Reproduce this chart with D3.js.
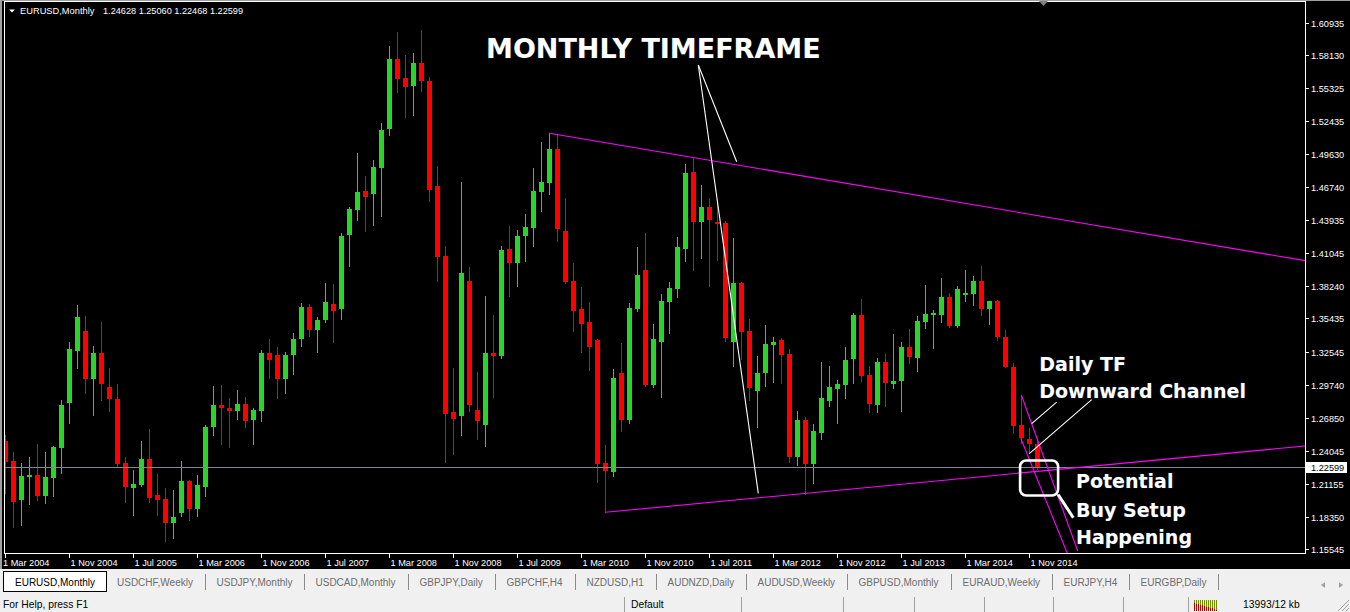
<!DOCTYPE html>
<html><head><meta charset="utf-8">
<script src="https://cdn.jsdelivr.net/npm/d3@7"></script>
<style>
html,body{margin:0;padding:0;background:#000;overflow:hidden}
svg{display:block}
</style></head><body>
<svg id="c" width="1350" height="612"></svg>
<script>
// ---------------- DATA ----------------
const symbol = "EURUSD,Monthly";
const headerValues = "1.24628 1.25060 1.22468 1.22599";
const firstBar = "Mar 2004";   // bar index 0, monthly bars
const opens = [1.2488,1.2315,1.1979,1.2180,1.2195,1.2014,1.2169,1.2428,1.2815,1.3264,
1.3436,1.3023,1.3246,1.2953,1.2850,1.2298,1.2083,1.2108,1.2332,1.2022,1.1988,1.1781,
1.1867,1.2143,1.1902,1.2091,1.2608,1.2798,1.2772,1.2746,1.2806,1.2669,1.2746,1.3246,
1.3229,1.3022,1.3229,1.3367,1.3642,1.3444,1.3531,1.3668,1.3625,1.4263,1.4478,1.4642,
1.4616,1.4840,1.5176,1.5779,1.5616,1.5547,1.5745,1.5590,1.4685,1.4081,1.2737,1.2706,
1.3866,1.2754,1.2626,1.3246,1.3220,1.4143,1.4022,1.4257,1.4325,1.4636,1.4713,1.5004,
1.4297,1.3866,1.3625,1.3515,1.3360,1.2298,1.2223,1.3071,1.2668,1.3623,1.3964,1.2970,
1.3338,1.3688,1.3797,1.4144,1.4806,1.4373,1.4506,1.4375,1.4369,1.3343,1.3851,1.3437,
1.2920,1.3075,1.3317,1.3360,1.3240,1.2352,1.2671,1.2292,1.2559,1.2835,1.2939,1.2973,
1.3197,1.3576,1.3059,1.2800,1.3171,1.2981,1.3007,1.3300,1.3205,1.3516,1.3576,1.3576,
1.3731,1.3481,1.3748,1.3757,1.3869,1.3628,1.3697,1.3386,1.3128,1.2628,1.2504,1.24628];
const highs = [1.2539,1.2393,1.2298,1.2350,1.2462,1.2393,1.2447,1.2841,1.3341,1.3659,
1.3565,1.3306,1.3513,1.3117,1.2979,1.2350,1.2238,1.2488,1.2591,1.2203,1.2083,1.2066,
1.2315,1.2151,1.2194,1.2625,1.2961,1.2970,1.2858,1.2927,1.2866,1.2772,1.3272,1.3366,
1.3298,1.3255,1.3418,1.3677,1.3668,1.3556,1.3849,1.3841,1.4280,1.4504,1.4969,1.4771,
1.4909,1.5228,1.5891,1.6012,1.5813,1.5830,1.6029,1.5624,1.4857,1.4167,1.3117,1.4720,
1.3987,1.3083,1.3737,1.3574,1.4169,1.4341,1.4307,1.4444,1.4842,1.5066,1.5139,1.5133,
1.4582,1.4021,1.3817,1.3687,1.3370,1.2453,1.3108,1.3335,1.3679,1.4162,1.4282,1.3498,
1.3754,1.3855,1.4248,1.4871,1.4927,1.4696,1.4584,1.4549,1.4383,1.4236,1.3860,1.3541,
1.3219,1.3490,1.3386,1.3378,1.3278,1.2749,1.2697,1.2637,1.3171,1.3137,1.3013,1.3297,
1.3593,1.3714,1.3134,1.3205,1.3240,1.3412,1.3343,1.3455,1.3567,1.3834,1.3619,1.3895,
1.3765,1.3826,1.3963,1.3912,1.3998,1.3697,1.3705,1.3447,1.3162,1.2886,1.2596,1.25060];
const lows = [1.2037,1.1749,1.1764,1.1945,1.1979,1.1956,1.2014,1.2212,1.2643,1.3117,
1.2902,1.2711,1.2841,1.2746,1.2272,1.1961,1.1850,1.2100,1.1961,1.1850,1.1626,1.1652,
1.1841,1.1807,1.1841,1.2014,1.2539,1.2461,1.2436,1.2677,1.2608,1.2461,1.2660,1.3031,
1.2858,1.2901,1.3064,1.3309,1.3393,1.3255,1.3510,1.3341,1.3539,1.3996,1.4392,1.4297,
1.4349,1.4426,1.5124,1.5495,1.5280,1.5297,1.5504,1.4556,1.3866,1.2309,1.2378,1.2539,
1.2746,1.2505,1.2445,1.2866,1.3203,1.3737,1.3823,1.4041,1.4170,1.4472,1.4618,1.4214,
1.3851,1.3438,1.3257,1.3099,1.2137,1.1873,1.2189,1.2576,1.2640,1.3610,1.2961,1.2956,
1.2869,1.3421,1.3731,1.4040,1.3964,1.4065,1.3826,1.4047,1.3352,1.3137,1.3196,1.2842,
1.2610,1.2964,1.2999,1.2990,1.2309,1.2283,1.2034,1.2128,1.2507,1.2792,1.2645,1.2860,
1.2990,1.3007,1.2740,1.2740,1.2792,1.2947,1.2749,1.3162,1.3093,1.3464,1.3291,1.3516,
1.3473,1.3473,1.3697,1.3662,1.3576,1.3499,1.3360,1.3128,1.2559,1.2473,1.2381,1.22468];
const closes = [1.2309,1.1965,1.2186,1.2195,1.2014,1.2177,1.2436,1.2798,1.3281,1.3556,
1.3023,1.3246,1.2979,1.2850,1.2289,1.2091,1.2117,1.2332,1.2000,1.1979,1.1781,1.1833,
1.2143,1.1902,1.2108,1.2608,1.2798,1.2772,1.2746,1.2806,1.2660,1.2755,1.3246,1.3186,
1.3022,1.3229,1.3367,1.3642,1.3444,1.3531,1.3686,1.3608,1.4254,1.4487,1.4633,1.4590,
1.4849,1.5167,1.5779,1.5607,1.5538,1.5745,1.5590,1.4651,1.4073,1.2723,1.2679,1.3935,
1.2798,1.2660,1.3246,1.3220,1.4134,1.4022,1.4255,1.4332,1.4641,1.4719,1.5004,1.4315,
1.3860,1.3610,1.3498,1.3300,1.2289,1.2232,1.3033,1.2668,1.3636,1.3918,1.2970,1.3369,
1.3697,1.3809,1.4162,1.4798,1.4373,1.4506,1.4392,1.4358,1.3378,1.3851,1.3429,1.2946,
1.3075,1.3326,1.3343,1.3231,1.2352,1.2671,1.2292,1.2576,1.2861,1.2956,1.2982,1.3188,
1.3576,1.3050,1.2809,1.3171,1.2990,1.3007,1.3300,1.3214,1.3524,1.3585,1.3593,1.3731,
1.3481,1.3800,1.3765,1.3869,1.3628,1.3697,1.3386,1.3128,1.2619,1.2516,1.2460,1.22599];

const priceTicks = [1.60935,1.58130,1.55325,1.52435,1.49630,1.46740,1.43935,1.41045,1.38240,
1.35435,1.32545,1.29740,1.26850,1.24045,1.21155,1.18350,1.15545];
const timeLabels = ["1 Mar 2004","1 Nov 2004","1 Jul 2005","1 Mar 2006","1 Nov 2006","1 Jul 2007",
"1 Mar 2008","1 Nov 2008","1 Jul 2009","1 Mar 2010","1 Nov 2010","1 Jul 2011","1 Mar 2012",
"1 Nov 2012","1 Jul 2013","1 Mar 2014","1 Nov 2014"];
const labelEvery = 8; // bars between time labels
const bidPrice = 1.22599;

// trend lines as [barIndex, price] anchor pairs
const upperTrend = [[68, 1.51388], [104.34, 1.47167]];   // ray to the right
const lowerTrend = [[75, 1.18733], [103.09, 1.20568]];   // ray to the right
const channelA = [[127.0, 1.2884], [134.05, 1.1540]];
const channelB = [[126.93, 1.2511], [132.75, 1.1520]];
// annotation pointer lines
const pointerLines = [
  [[86.625, 1.57274], [91.425, 1.48942]],
  [[86.625, 1.57274], [94.125, 1.20370]],
  [[131.42, 1.28229], [128.3, 1.26368]],
  [[135.8, 1.28436], [128.0, 1.23786]]
];
const boxCorners = [[126.85, 1.23194], [131.6, 1.20178]];
const boxTail = [[131.6, 1.20265], [133.5, 1.18260]];
const notes = [
  {text:"MONTHLY TIMEFRAME", at:[60.09, 1.5786], size:27},
  {text:"Daily TF", at:[129.25, 1.30908], size:19},
  {text:"Downward Channel", at:[129.25, 1.28556], size:19},
  {text:"Potential", at:[133.84, 1.20801], size:19},
  {text:"Buy Setup", at:[133.84, 1.18354], size:19},
  {text:"Happening", at:[133.84, 1.16002], size:19}
];
const tabs = ["EURUSD,Monthly","USDCHF,Weekly","USDJPY,Monthly","USDCAD,Monthly","GBPJPY,Daily",
"GBPCHF,H4","NZDUSD,H1","AUDNZD,Daily","AUDUSD,Weekly","GBPUSD,Monthly","EURAUD,Weekly",
"EURJPY,H4","EURGBP,Daily"];
const statusHelp = "For Help, press F1";
const statusProfile = "Default";
const statusTraffic = "13993/12 kb";

// ---------------- DRAW ----------------
const W = 1350, H = 612;
const plot = {left:4.5, right:1305.5, top:1.5, bottom:553.5};
const x = d3.scaleLinear().domain([0, 1]).range([5.3, 13.3]);
const y = d3.scaleLinear().domain([1.15545, 1.60935]).range([549.3, 22.5]);
const GREEN = "#2ad42a", RED = "#ff0000", MAG = "#ff00ff";
const UI = "'Liberation Sans', Arial, sans-serif";

const svg = d3.select("#c");
svg.append("rect").attr("width", W).attr("height", H).attr("fill", "#000");

const defs = svg.append("defs");
defs.append("clipPath").attr("id", "clip").append("rect")
  .attr("x", plot.left + 0.5).attr("y", plot.top + 0.5)
  .attr("width", plot.right - plot.left - 1).attr("height", plot.bottom - plot.top - 1);

const bars = opens.map((o, i) => ({i, o, h: highs[i], l: lows[i], c: closes[i]}));
const cg = svg.append("g").attr("clip-path", "url(#clip)").attr("shape-rendering", "crispEdges");

cg.selectAll("line.wick").data(bars).join("line").attr("class", "wick")
  .attr("x1", d => Math.round(x(d.i)) + 0.5).attr("x2", d => Math.round(x(d.i)) + 0.5)
  .attr("y1", d => Math.round(y(d.h))).attr("y2", d => Math.round(y(d.l)) + 1)
  .attr("stroke", d => d.c >= d.o ? GREEN : RED).attr("stroke-width", 1);

cg.selectAll("rect.body").data(bars).join("rect").attr("class", "body")
  .attr("x", d => Math.round(x(d.i)) - 2).attr("width", 5)
  .attr("y", d => Math.round(y(Math.max(d.o, d.c))))
  .attr("height", d => Math.max(1, Math.round(y(Math.min(d.o, d.c))) - Math.round(y(Math.max(d.o, d.c)))))
  .attr("fill", d => d.c >= d.o ? GREEN : RED);

// bid line
const yb = Math.round(y(bidPrice)) + 0.5;
cg.append("line").attr("x1", plot.left).attr("x2", plot.right).attr("y1", yb).attr("y2", yb)
  .attr("stroke", "#7d8796").attr("stroke-width", 1);

// trend lines
const lg = svg.append("g").attr("clip-path", "url(#clip)");
function rayEnd(p) {
  const [a, b] = p; const iEnd = x.invert(plot.right);
  const slope = (b[1] - a[1]) / (b[0] - a[0]);
  return [[a[0], a[1]], [iEnd, a[1] + slope * (iEnd - a[0])]];
}
const seg = (p, color, w) => lg.append("line")
  .attr("x1", x(p[0][0])).attr("y1", y(p[0][1])).attr("x2", x(p[1][0])).attr("y2", y(p[1][1]))
  .attr("stroke", color).attr("stroke-width", w);
seg(rayEnd(upperTrend), MAG, 1.1);
seg(rayEnd(lowerTrend), MAG, 1.1);
seg(channelA, MAG, 1.1);
seg(channelB, MAG, 1.1);
pointerLines.forEach(p => seg(p, "#fff", 1.1));

// rounded box + tail
lg.append("rect")
  .attr("x", x(boxCorners[0][0])).attr("y", y(boxCorners[0][1]))
  .attr("width", x(boxCorners[1][0]) - x(boxCorners[0][0]))
  .attr("height", y(boxCorners[1][1]) - y(boxCorners[0][1]))
  .attr("rx", 6).attr("fill", "none").attr("stroke", "#fff").attr("stroke-width", 2.6);
seg(boxTail, "#fff", 3);

// annotation texts
svg.append("g").selectAll("text").data(notes).join("text")
  .attr("x", d => x(d.at[0])).attr("y", d => y(d.at[1]))
  .attr("font-family", "'DejaVu Sans', Verdana, sans-serif").attr("font-weight", "bold")
  .attr("font-size", d => d.size).attr("fill", "#fff")
  .attr("stroke", "#1a2a50").attr("stroke-width", 0.6).attr("paint-order", "stroke")
  .text(d => d.text);

// frame
const fr = svg.append("g").attr("shape-rendering", "crispEdges");
fr.append("rect").attr("x", plot.left).attr("y", plot.top)
  .attr("width", plot.right - plot.left).attr("height", plot.bottom - plot.top)
  .attr("fill", "none").attr("stroke", "#fff").attr("stroke-width", 1);
// window edge at the left
fr.append("rect").attr("x", 0).attr("y", 0).attr("width", 2).attr("height", 569).attr("fill", "#a0a0a0");
fr.append("rect").attr("x", 0).attr("y", 0).attr("width", W).attr("height", 1).attr("fill", "#a0a0a0");

// header
svg.append("path").attr("d", "M9,9.5 L15,9.5 L12,12.5 Z").attr("fill", "#fff");
svg.append("text").attr("x", 20).attr("y", 14).attr("font-family", UI).attr("font-size", 9.3)
  .attr("fill", "#fff").text(symbol);
svg.append("text").attr("x", 103).attr("y", 14).attr("font-family", UI).attr("font-size", 9)
  .attr("fill", "#fff").attr("textLength", 140).attr("lengthAdjust", "spacingAndGlyphs").text(headerValues);
// chart shift marker
svg.append("path").attr("d", "M1039,1 L1048,1 L1043.5,6 Z").attr("fill", "#808080");

// price axis
const pa = svg.append("g");
priceTicks.forEach(p => {
  const yy = Math.round(y(p)) + 0.5;
  pa.append("line").attr("x1", plot.right).attr("x2", plot.right + 3).attr("y1", yy).attr("y2", yy)
    .attr("stroke", "#fff").attr("shape-rendering", "crispEdges");
  pa.append("text").attr("x", 1311).attr("y", yy + 3.5).attr("font-family", UI).attr("font-size", 9.2)
    .attr("fill", "#fff").text(p.toFixed(5));
});
pa.append("rect").attr("x", 1306).attr("y", yb - 5.5).attr("width", 41).attr("height", 11).attr("fill", "#fff");
pa.append("text").attr("x", 1311).attr("y", yb + 3.5).attr("font-family", UI).attr("font-size", 9.2)
  .attr("fill", "#000").text(bidPrice.toFixed(5));

// time axis
const ta = svg.append("g");
timeLabels.forEach((t, k) => {
  const xx = Math.round(x(k * labelEvery)) + 0.5;
  ta.append("line").attr("x1", xx).attr("x2", xx).attr("y1", plot.bottom).attr("y2", plot.bottom + 4)
    .attr("stroke", "#fff").attr("shape-rendering", "crispEdges");
  ta.append("text").attr("x", k === 0 ? 3 : xx + 1).attr("y", 566).attr("font-family", UI).attr("font-size", 9.2)
    .attr("fill", "#fff").text(t);
});

// tab bar
const tb = svg.append("g");
tb.append("rect").attr("x", 0).attr("y", 569).attr("width", W).attr("height", 26).attr("fill", "#f0f0f0");
tb.append("rect").attr("x", 3.5).attr("y", 571.5).attr("width", 103).attr("height", 20)
  .attr("fill", "#fff").attr("stroke", "#000").attr("shape-rendering", "crispEdges");
let tx = 15;
tabs.forEach((t, k) => {
  const el = tb.append("text").attr("x", tx).attr("y", 586).attr("font-family", UI).attr("font-size", 10)
    .attr("fill", k === 0 ? "#000" : "#6d6d6d").text(t);
  const w = el.node().getComputedTextLength();
  if (k === 0) { tx = 117; return; }
  const sx = Math.round(tx + w + 12) + 0.5;
  tb.append("line").attr("x1", sx).attr("x2", sx).attr("y1", 574).attr("y2", 590)
    .attr("stroke", "#8a8a8a").attr("shape-rendering", "crispEdges");
  tx = sx + 11;
});
tb.append("path").attr("d", "M1325,582 L1321,585 L1325,588 Z").attr("fill", "#a0a0a0");
tb.append("path").attr("d", "M1339,582 L1343,585 L1339,588 Z").attr("fill", "#a0a0a0");

// status bar
const sb = svg.append("g");
sb.append("rect").attr("x", 0).attr("y", 595).attr("width", W).attr("height", 17).attr("fill", "#f0f0f0");
sb.append("text").attr("x", 3).attr("y", 608).attr("font-family", UI).attr("font-size", 10.3)
  .attr("fill", "#000").text(statusHelp);
sb.append("text").attr("x", 631).attr("y", 608).attr("font-family", UI).attr("font-size", 10.3)
  .attr("fill", "#000").text(statusProfile);
sb.append("text").attr("x", 1243).attr("y", 608).attr("font-family", UI).attr("font-size", 10.3)
  .attr("fill", "#000").text(statusTraffic);
[624, 741, 843, 914, 984, 1053, 1123, 1188].forEach(sx => {
  sb.append("line").attr("x1", sx + 0.5).attr("x2", sx + 0.5).attr("y1", 597).attr("y2", 612)
    .attr("stroke", "#a0a0a0").attr("shape-rendering", "crispEdges");
});
for (let k = 0; k < 12; k++) {
  const bx = 1194 + k * 2;
  const split = 600 + Math.round(k * 0.6) + 3;
  sb.append("rect").attr("x", bx).attr("y", 600).attr("width", 1).attr("height", split - 600).attr("fill", "#6f8f00");
  sb.append("rect").attr("x", bx).attr("y", split).attr("width", 1).attr("height", 611 - split).attr("fill", "#b00000");
}
for (let k = 0; k < 3; k++) {
  sb.append("line").attr("x1", 1338 + k * 4).attr("y1", 611).attr("x2", 1349).attr("y2", 600 + k * 4)
    .attr("stroke", "#a0a0a0");
}
</script>
</body></html>
